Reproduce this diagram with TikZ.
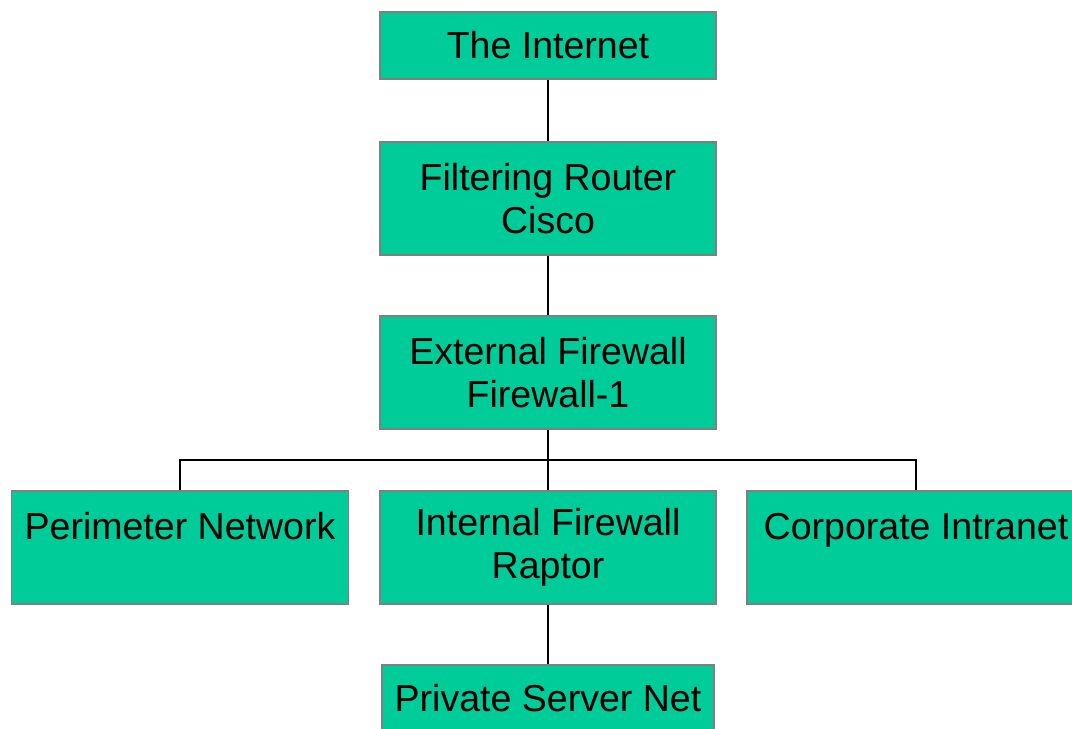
\documentclass[tikz,border=0pt]{standalone}
\usepackage{fontspec}
\setmainfont{Liberation Sans}
\usetikzlibrary{positioning, calc}
\definecolor{boxgreen}{RGB}{0,204,153}
\definecolor{boxgray}{RGB}{128,128,128}
\tikzstyle{every picture} = [node distance=3.825cm]
\tikzstyle{netbox} = [rectangle, draw=boxgray, line width=1.4pt, fill=boxgreen, inner sep=0pt, minimum width=8.4cm, minimum height=2.825cm, align=center, font=\fontsize{26.7}{30.6}\selectfont]
\tikzstyle{link} = [draw, line width=1.4pt]

\begin{document}
\begin{tikzpicture}
			\useasboundingbox (-13.7,1.1375) rectangle (13.1,-17.0875);
			\node (internet) [netbox, minimum height=1.675cm] {The Internet};
			\node (router) [netbox, below of=internet] {Filtering Router\\Cisco};
			\node (ext fw) [netbox, below of=router, node distance=4.35cm] {External Firewall\\Firewall-1};
			\node (int fw) [netbox, below of=ext fw, node distance=4.375cm] {Internal Firewall\\Raptor};
			\node (perimeter) [netbox, left of=int fw, node distance=9.2cm, minimum width=8.425cm] {Perimeter Network\\\mbox{}};
			\node (corporate) [netbox, right of=int fw, node distance=9.2cm, minimum width=8.45cm] {Corporate Intranet\\\mbox{}};
			\node (private) [netbox, below of=int fw, node distance=3.775cm, minimum width=8.3cm, minimum height=1.675cm] {Private Server Net};
			\coordinate (bar) at ($(ext fw.south)!0.5!(int fw.north)$);
			\path[link] (internet) -- (router);
			\path[link] (router) -- (ext fw);
			\path[link] (ext fw) -- (int fw);
			\path[link] (perimeter.north) |- (bar) -| (corporate.north);
			\path[link] (int fw) -- (private);
		\end{tikzpicture}
\end{document}
